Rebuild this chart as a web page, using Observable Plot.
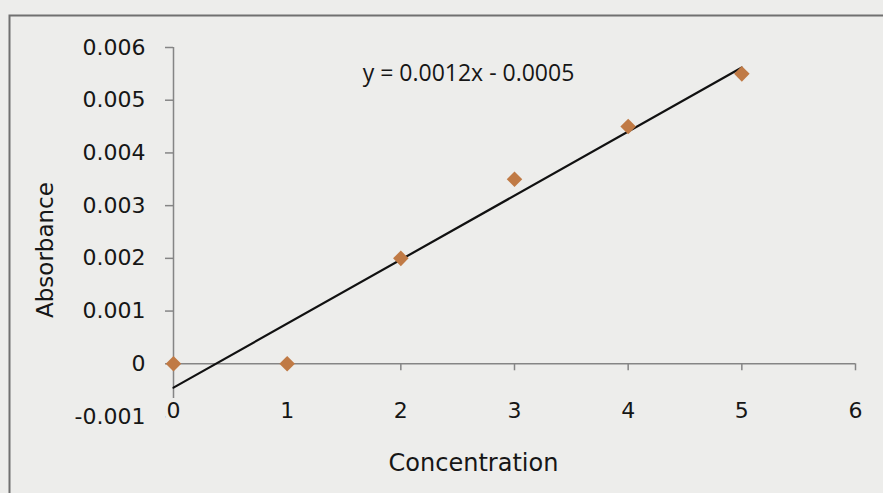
<!DOCTYPE html>
<html>
<head>
<meta charset="utf-8">
<script src="https://cdn.jsdelivr.net/npm/d3@7"></script>
<script src="https://cdn.jsdelivr.net/npm/@observablehq/plot@0.6"></script>
<style>
  html, body { margin: 0; padding: 0; background: #ededeb; }
  #chart { width: 883px; height: 493px; overflow: hidden; }
</style>
</head>
<body>
<div id="chart"></div>
<script>
const concentration = [0, 1, 2, 3, 4, 5];
const absorbance = [0, 0, 0.002, 0.0035, 0.0045, 0.0055];
const yTicks = [-0.001, 0, 0.001, 0.002, 0.003, 0.004, 0.005, 0.006];
const xTicks = [0, 1, 2, 3, 4, 5, 6];
const equationLabel = "y = 0.0012x - 0.0005";
const xTitle = "Concentration";
const yTitle = "Absorbance";

const data = concentration.map((c, i) => ({c, a: absorbance[i]}));
const bg = "#ededeb";
const axisColor = "#858585";
const textColor = "#161616";
const font = "DejaVu Sans, sans-serif";

const chart = Plot.plot({
  width: 883,
  height: 493,
  marginLeft: 173,
  marginRight: 28,
  marginTop: 47,
  marginBottom: 93,
  style: {background: bg, fontFamily: font, color: textColor},
  x: {domain: [0, 6], axis: null},
  y: {domain: [-0.001, 0.006], range: [416, 47], axis: null},
  marks: [
    Plot.frame({stroke: "#707070", strokeWidth: 2, insetLeft: -164, insetTop: -32, insetRight: -60, insetBottom: -200}),
    Plot.axisY(yTicks, {
      anchor: "left", tickSize: 8, tickPadding: 20, stroke: axisColor, strokeWidth: 1.5,
      fontSize: 22, fill: textColor,
      tickFormat: d => d === 0 ? "0" : d.toFixed(3).replace("\u2212", "-"),
      label: null
    }),
    Plot.ruleX([0], {y1: -0.001, y2: 0.006, stroke: axisColor, strokeWidth: 1.5}),
    Plot.ruleY([0], {x1: 0, x2: 6, stroke: axisColor, strokeWidth: 1.5}),
    Plot.ruleX(xTicks.slice(1), {x: d => d, y1: 0, y2: 0, insetBottom: -7, stroke: axisColor, strokeWidth: 1.5}),
    Plot.text(xTicks, {
      x: d => d, frameAnchor: "bottom", dy: 17, text: d => String(d),
      fontSize: 22, fill: textColor, stroke: bg, strokeWidth: 8, paintOrder: "stroke"
    }),
    Plot.linearRegressionY(data, {x: "c", y: "a", stroke: "#111", strokeWidth: 2.2, ci: 0}),
    Plot.dot(data, {x: "c", y: "a", symbol: "diamond2", r: 7, fill: "#c07a45"}),
    Plot.text([equationLabel], {frameAnchor: "top", dx: -46, dy: 17, fontSize: 23, fill: textColor, fontFamily: "Open Sans, sans-serif"}),
    Plot.text([xTitle], {frameAnchor: "bottom", dx: -41, dy: 70, fontSize: 24, fill: textColor}),
    Plot.text([yTitle], {frameAnchor: "left", rotate: -90, dx: -128, dy: 94, fontSize: 23, fill: textColor})
  ]
});
document.getElementById("chart").appendChild(chart);
</script>
</body>
</html>
